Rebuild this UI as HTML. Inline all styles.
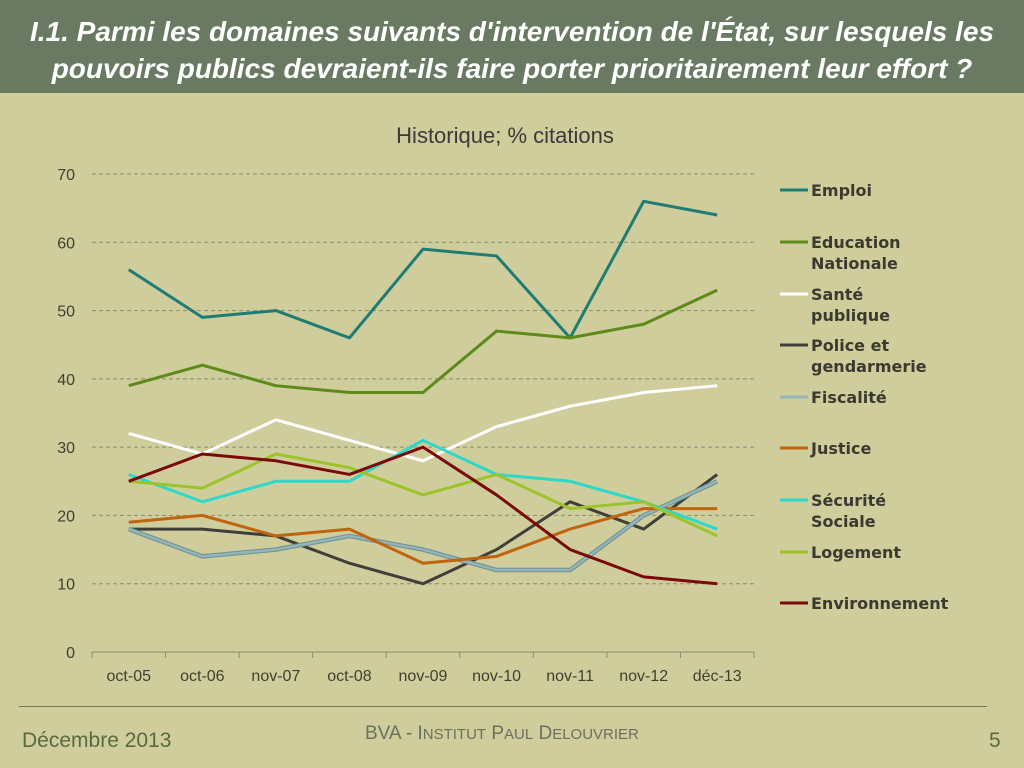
<!DOCTYPE html>
<html><head><meta charset="utf-8"><style>
body{margin:0;width:1024px;height:768px;background:#cfcd9b;position:relative;overflow:hidden;font-family:"Liberation Sans",sans-serif}
#hdr{position:absolute;left:0;top:0;width:1024px;height:93px;background:#6a7a62;color:#fff;font-weight:bold;font-style:italic;font-size:28px;line-height:37px;text-align:center;padding-top:13px;box-sizing:border-box;white-space:nowrap}
.ft{position:absolute;color:#5a6a40}
</style></head><body>
<div id="hdr">I.1. Parmi les domaines suivants d'intervention de l'État, sur lesquels les<br>pouvoirs publics devraient-ils faire porter prioritairement leur effort ?</div>
<svg id="chart" width="1024" height="768" style="position:absolute;left:0;top:0"></svg>
<div style="position:absolute;left:19px;top:706px;width:968px;height:1px;background:#6a7a50"></div>
<div class="ft" style="left:22px;top:729px;font-size:21px">Décembre 2013</div>
<div class="ft" style="left:365px;top:723px;font-size:19px;color:#6a7060">BVA - I<span style="font-size:15px">NSTITUT</span> P<span style="font-size:15px">AUL</span> D<span style="font-size:15px">ELOUVRIER</span></div>
<div class="ft" style="left:989px;top:729px;font-size:21px">5</div>
<script>
const categories=["oct-05","oct-06","nov-07","oct-08","nov-09","nov-10","nov-11","nov-12","déc-13"];
const yTicks=[0,10,20,30,40,50,60,70];
const seriesNames=["Emploi","Education Nationale","Santé publique","Police et gendarmerie","Fiscalité","Justice","Sécurité Sociale","Logement","Environnement"];
const emploi=[56,49,50,46,59,58,46,66,64];
const education=[39,42,39,38,38,47,46,48,53];
const sante=[32,29,34,31,28,33,36,38,39];
const police=[18,18,17,13,10,15,22,18,26];
const fiscalite=[18,14,15,17,15,12,12,20,25];
const justice=[19,20,17,18,13,14,18,21,21];
const securite=[26,22,25,25,31,26,25,22,18];
const logement=[25,24,29,27,23,26,21,22,17];
const environnement=[25,29,28,26,30,23,15,11,10];
const allSeries=[emploi,education,sante,police,fiscalite,justice,securite,logement,environnement];
const colors=["#1f7c74","#5e8a1a","#ffffff","#3f3f3a","#93b5b8","#c0640f","#2ed8c8","#9cc42a","#7a0a0a"];
const legendLines=[["Emploi"],["Education","Nationale"],["Santé","publique"],["Police et","gendarmerie"],["Fiscalité"],["Justice"],["Sécurité","Sociale"],["Logement"],["Environnement"]];
const legendY=[190,242,294,345,397,448,500,552,603];
const NS="http://www.w3.org/2000/svg";
const svg=document.getElementById('chart');
const x0=92,x1=754,yTop=174,yBot=652,yMax=70;
const step=(x1-x0)/categories.length;
const xs=i=>x0+step*(i+0.5);
const ys=v=>yBot-(v/yMax)*(yBot-yTop);
function mk(t,a){const e=document.createElementNS(NS,t);for(const k in a)e.setAttribute(k,a[k]);svg.appendChild(e);return e;}
let t=mk('text',{x:505,y:143,'text-anchor':'middle','font-size':22,fill:'#3a3a3a','font-family':'Liberation Sans, sans-serif'});t.textContent="Historique; % citations";


yTicks.forEach(v=>{
 if(v>0){const g=mk('line',{x1:x0,x2:x1,y1:ys(v),y2:ys(v),stroke:'#8e8c70','stroke-dasharray':'4,3','stroke-width':1});
 
 }
 const l=mk('text',{x:75,y:ys(v)+6,'text-anchor':'end','font-size':16,fill:'#404030'});l.textContent=v;
 
 
});
const ax=mk('line',{x1:x0,x2:x1,y1:yBot,y2:yBot,stroke:'#8e8c70','stroke-width':1});


categories.forEach((c,i)=>{
 const tk=mk('line',{x1:x0+step*i,x2:x0+step*i,y1:yBot,y2:yBot+6,stroke:'#8e8c70'});
 
 
 const l=mk('text',{x:xs(i),y:681,'text-anchor':'middle','font-size':16,fill:'#404030'});l.textContent=c;
 
 
});
mk('line',{x1:x1,x2:x1,y1:yBot,y2:yBot+6,stroke:'#8e8c70'});
allSeries.forEach((s,k)=>{
 const pts=s.map((v,i)=>xs(i)+','+ys(v)).join(' ');
 if(k===4){const o=mk('polyline',{points:pts,fill:'none',stroke:'#6f8f92','stroke-width':4.5,'stroke-linejoin':'round'});}
 const p=mk('polyline',{points:pts,fill:'none',stroke:colors[k],'stroke-width':k===4?2.5:3,'stroke-linejoin':'round'});
 
 
 const ly=legendY[k];
 const ll=mk('line',{x1:780,x2:808,y1:ly,y2:ly,stroke:colors[k],'stroke-width':3});
 
 
 legendLines[k].forEach((ln,j)=>{
  const tt=mk('text',{x:811,y:ly+6+j*21,'font-size':16,'font-weight':'bold',fill:'#3a3a30','font-family':'DejaVu Sans, sans-serif'});tt.textContent=ln;
  
  
 });
});
</script>
</body></html>
